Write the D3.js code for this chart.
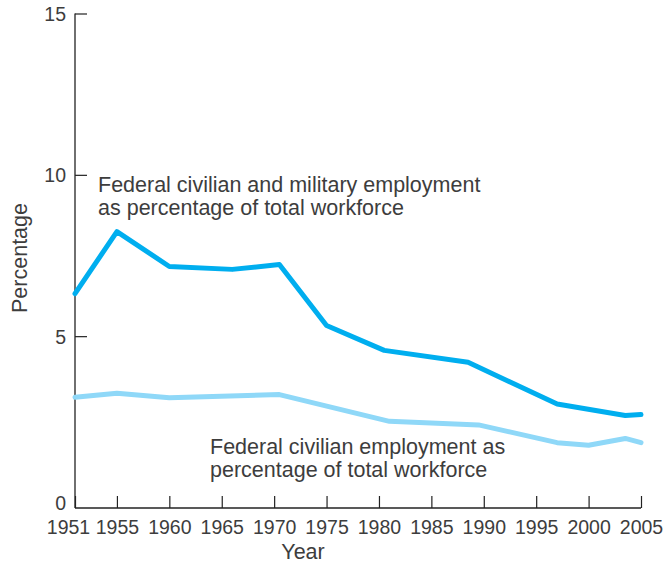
<!DOCTYPE html>
<html>
<head>
<meta charset="utf-8">
<script src="https://cdn.jsdelivr.net/npm/d3@7"></script>
<style>
  body { margin: 0; background: #fff; }
  text { font-family: "Liberation Sans", Arial, sans-serif; fill: #3d3d3d; }
</style>
</head>
<body>
<div id="chart"></div>
<script>
// data (percent of total workforce)
const totalYears = [1951, 1955, 1960, 1966, 1970.5, 1975, 1980.5, 1988.5, 1997, 2003.5, 2005];
const totalValues = [6.32, 8.24, 7.16, 7.07, 7.22, 5.33, 4.56, 4.19, 2.90, 2.54, 2.57];

const civilianYears = [1951, 1955, 1960, 1970.5, 1981, 1989.5, 1997, 2000, 2003.5, 2005];
const civilianValues = [3.11, 3.23, 3.09, 3.19, 2.36, 2.25, 1.70, 1.62, 1.83, 1.70];

const xTicks = [1951, 1955, 1960, 1965, 1970, 1975, 1980, 1985, 1990, 1995, 2000, 2005];
const yTicks = [5, 10, 15];

const totalLabel = ['Federal civilian and military employment', 'as percentage of total workforce'];
const civilianLabel = ['Federal civilian employment as', 'percentage of total workforce'];

const width = 666,
	height = 563;
const axisY = 508; // x axis sits a little below the zero line, as in the print
const tickFont = '19.5px',
	labelFont = '21.5px';

const svg = d3.select('#chart').append('svg').attr('width', width).attr('height', height);

const xScale = d3.scaleLinear().domain([ 1951, 2005 ]).range([ 75, 641 ]);
const yScale = d3.scaleLinear().domain([ 0, 15 ]).range([ 497.5, 13.5 ]);

// y axis, ticks pointing inward
const yAxis = d3.axisRight(yScale).tickValues(yTicks).tickSize(12).tickFormat(d3.format('d'));
const yG = svg.append('g').attr('transform', 'translate(' + xScale(1951) + ',0)').call(yAxis);
yG.select('.domain').remove();
yG.selectAll('.tick line').attr('stroke', '#222').attr('stroke-width', 1.2);
yG
	.selectAll('.tick text')
	.attr('x', -9)
	.attr('dy', '0.36em')
	.attr('text-anchor', 'end')
	.style('font-size', tickFont);
svg
	.append('line')
	.attr('x1', xScale(1951))
	.attr('x2', xScale(1951))
	.attr('y1', yScale(15))
	.attr('y2', axisY)
	.attr('stroke', '#222')
	.attr('stroke-width', 1.3);

// zero label sits on the x axis
svg
	.append('text')
	.attr('x', xScale(1951) - 9)
	.attr('y', axisY + 2)
	.attr('text-anchor', 'end')
	.style('font-size', tickFont)
	.text('0');

// x axis, ticks pointing up
const xAxis = d3.axisTop(xScale).tickValues(xTicks).tickSize(12).tickFormat(d3.format('d'));
const xG = svg.append('g').attr('transform', 'translate(0,' + axisY + ')').call(xAxis);
xG.select('.domain').remove();
xG.selectAll('.tick line').attr('stroke', '#222').attr('stroke-width', 1.2);
xG
	.selectAll('.tick text')
	.attr('y', 26)
	.attr('dy', 0)
	.attr('dx', (d) => (d === 1951 ? -7 : 0))
	.style('font-size', tickFont);
svg
	.append('line')
	.attr('x1', xScale(1951))
	.attr('x2', xScale(2005))
	.attr('y1', axisY)
	.attr('y2', axisY)
	.attr('stroke', '#222')
	.attr('stroke-width', 1.3);

// axis titles
svg
	.append('text')
	.attr('x', 303)
	.attr('y', 559)
	.attr('text-anchor', 'middle')
	.style('font-size', labelFont)
	.text('Year');

svg
	.append('text')
	.attr('transform', 'translate(27,258) rotate(-90)')
	.attr('text-anchor', 'middle')
	.style('font-size', labelFont)
	.text('Percentage');

// lines
const line = d3.line().x((d) => xScale(d[0])).y((d) => yScale(d[1]));

svg
	.append('path')
	.datum(d3.zip(civilianYears, civilianValues))
	.attr('d', line)
	.attr('fill', 'none')
	.attr('stroke', '#8fd8f8')
	.attr('stroke-width', 5)
	.attr('stroke-linejoin', 'round')
	.attr('stroke-linecap', 'round');

svg
	.append('path')
	.datum(d3.zip(totalYears, totalValues))
	.attr('d', line)
	.attr('fill', 'none')
	.attr('stroke', '#00aeef')
	.attr('stroke-width', 5)
	.attr('stroke-linejoin', 'round')
	.attr('stroke-linecap', 'round');

// annotations
const addLabel = (lines, x, y) => {
	svg
		.append('text')
		.attr('x', x)
		.attr('y', y)
		.style('font-size', labelFont)
		.selectAll('tspan')
		.data(lines)
		.enter()
		.append('tspan')
		.attr('x', x)
		.attr('dy', (d, i) => (i === 0 ? 0 : 23))
		.text((d) => d);
};
addLabel(totalLabel, 98, 192);
addLabel(civilianLabel, 210, 454);
</script>
</body>
</html>
